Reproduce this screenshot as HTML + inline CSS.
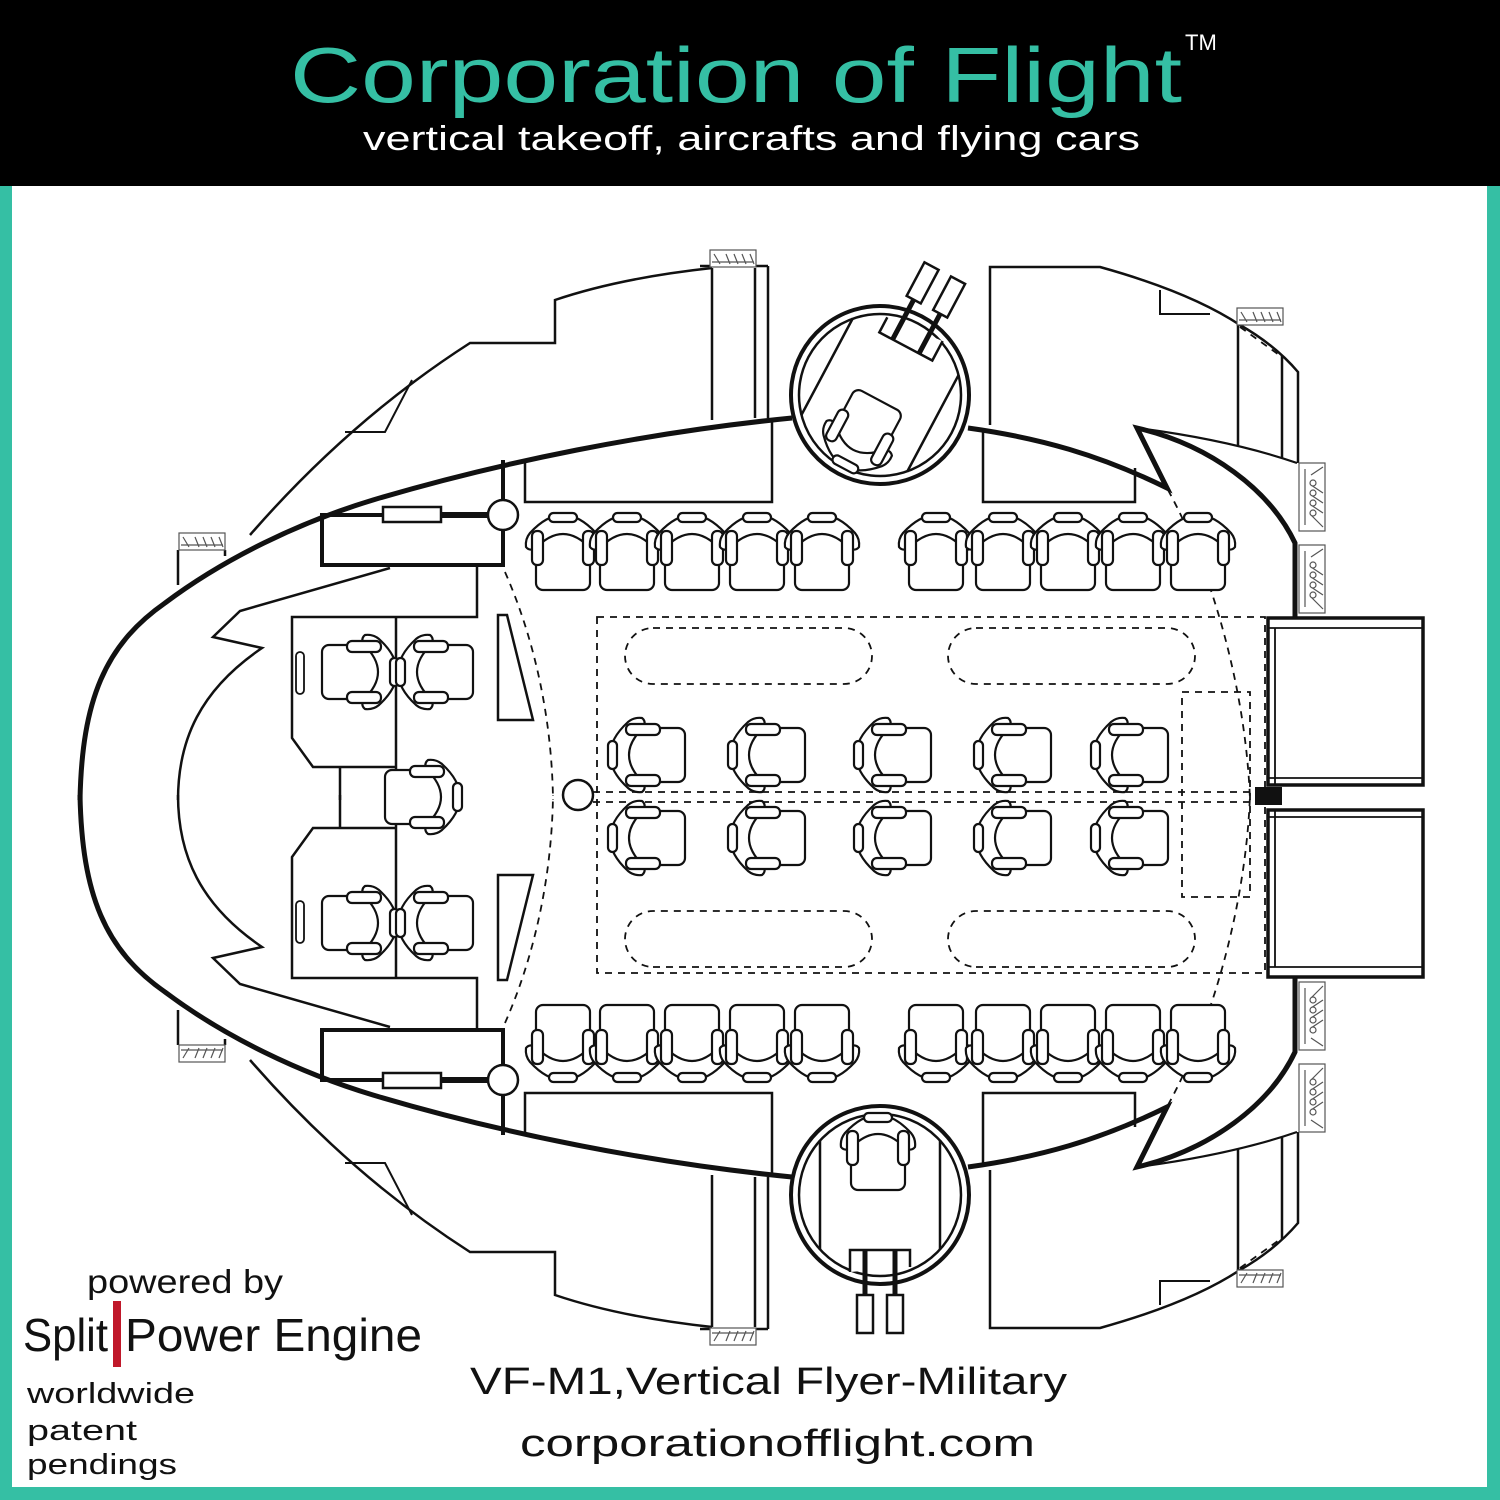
<!DOCTYPE html>
<html><head><meta charset="utf-8"><style>
html,body{margin:0;padding:0;background:#fff;}
svg{display:block;}
text{font-family:"Liberation Sans",sans-serif;}
</style></head><body>
<svg width="1500" height="1500" viewBox="0 0 1500 1500" xmlns="http://www.w3.org/2000/svg">
<defs>
  <g id="seat" fill="#fff" stroke="#111" stroke-width="2.2" stroke-linejoin="round">
    <rect x="-27" y="-4" width="54" height="59" rx="7"/>
    <path d="M-37,12 Q-38,4 -33,-2 Q0,-38 33,-2 Q38,4 37,12 Q34,16 28,14 Q0,-16 -28,14 Q-34,16 -37,12 Z"/>
    <rect x="-14" y="-22" width="28" height="9" rx="4.5"/>
    <rect x="-31" y="-4" width="11" height="34" rx="5"/>
    <rect x="20" y="-4" width="11" height="34" rx="5"/>
  </g>
  <g id="thruster" fill="#fff" stroke="#555" stroke-width="1.2">
    <rect x="0" y="0" width="46" height="17"/>
    <path d="M4,4 L10,14 M16,4 L20,14 M24,4 L28,14 M32,4 L36,14 M40,4 L44,14 M2,12 H44"/>
  </g>
  <g id="vthruster" fill="#fff" stroke="#555" stroke-width="1.2">
    <rect x="0" y="0" width="26" height="68"/>
    <path d="M6,6 V62 M12,12 L24,4 M12,22 L24,30 M12,32 L24,40 M12,42 L24,50 M12,52 L24,64"/>
    <circle cx="14" cy="20" r="3"/><circle cx="14" cy="30" r="3"/><circle cx="14" cy="40" r="3"/><circle cx="14" cy="50" r="3"/>
  </g>
  <g id="turret" fill="none" stroke="#111">
    <circle r="89" stroke-width="4" fill="#fff"/>
    <circle r="81" stroke-width="2.5"/>
    <path d="M-60,-55 V55 M60,-55 V55" stroke-width="2.5"/>
    <path d="M-30,77 V55 H30 V72" stroke-width="2.5" fill="#fff"/>
    <path d="M-15,55 V100 M15,55 V100" stroke-width="5"/>
    <rect x="-23" y="100" width="16" height="38" stroke-width="2.5" fill="#fff"/>
    <rect x="7" y="100" width="16" height="38" stroke-width="2.5" fill="#fff"/>
    <use href="#seat" transform="translate(-2,-60)"/>
  </g>
  <g id="half" fill="none" stroke="#111">
    <path d="M250,535 Q350,420 470,343 L555,343 L555,300 Q620,278 712,268" stroke-width="2.5"/>
    <path d="M345,432 L385,432 L412,380" stroke-width="2"/>
    <path d="M712,268 V420 M755,268 V418 M768,266 V418 M700,266 H768" stroke-width="2.5"/>
    <path d="M525,462 V502 H772 V420" stroke-width="2.5"/>
    <path d="M990,425 V267 H1100 Q1190,292 1240,325 Q1275,345 1298,372 V463" stroke-width="2.5"/>
    <path d="M1160,290 V314 H1210" stroke-width="2"/>
    <path d="M1238,325 V446 M1282,356 V458" stroke-width="2.5"/>
    <path d="M1240,327 L1282,357" stroke-width="1.8" stroke-dasharray="7,6"/>
    <path d="M983,430 V502 H1135 V468" stroke-width="2.5"/>
    <path d="M1137,428 Q1230,440 1297,463" stroke-width="2.2"/>
    <path d="M178,550 V585 M225,550 V556" stroke-width="2.5"/>
    <path d="M80,800 C82,700 105,645 165,603 C225,558 300,522 373,500 C500,462 650,432 792,418" stroke-width="5"/>
    <path d="M968,428 C1040,438 1100,455 1167,488 L1137,428 C1210,445 1270,490 1295,543 L1295,617" stroke-width="5"/>
    <path d="M503,460 V500" stroke-width="4"/>
    <path d="M390,568 L240,611 L213,637 L262,648 C200,690 178,740 178,800" stroke-width="2.5"/>
    <rect x="322" y="515" width="181" height="50" stroke-width="4"/>
    <rect x="383" y="507" width="58" height="15" stroke-width="2.5" fill="#fff"/>
    <path d="M441,515 H490" stroke-width="6"/>
    <circle cx="503" cy="515" r="15" stroke-width="2.5" fill="#fff"/>
    <path d="M477,565 V617 H292 V738 L313,767 H396 M396,617 V800 M340,767 V800" stroke-width="2.5"/>
    <path d="M498,615 H507 L533,720 H498 Z" stroke-width="2.5"/>
    <rect x="296" y="652" width="8" height="42" rx="4" stroke-width="1.8"/>
    <use href="#seat" transform="translate(377,672) rotate(90)"/>
    <use href="#seat" transform="translate(418,672) rotate(-90)"/>
    <path d="M505,572 C535,640 552,720 553,800" stroke-width="1.8" stroke-dasharray="7,6"/>
    <path d="M1168,490 C1212,570 1246,690 1250,800" stroke-width="1.8" stroke-dasharray="7,6"/>
    <rect x="625" y="628" width="247" height="56" rx="28" stroke-width="1.8" stroke-dasharray="7,6"/>
    <rect x="948" y="628" width="247" height="56" rx="28" stroke-width="1.8" stroke-dasharray="7,6"/>
    <use href="#seat" transform="translate(563,535)"/>
    <use href="#seat" transform="translate(627,535)"/>
    <use href="#seat" transform="translate(692,535)"/>
    <use href="#seat" transform="translate(757,535)"/>
    <use href="#seat" transform="translate(822,535)"/>
    <use href="#seat" transform="translate(936,535)"/>
    <use href="#seat" transform="translate(1003,535)"/>
    <use href="#seat" transform="translate(1068,535)"/>
    <use href="#seat" transform="translate(1133,535)"/>
    <use href="#seat" transform="translate(1198,535)"/>
    <use href="#thruster" transform="translate(179,533)"/>
    <use href="#thruster" transform="translate(710,250)"/>
    <use href="#thruster" transform="translate(1237,308)"/>
    <use href="#vthruster" transform="translate(1299,463)"/>
    <use href="#vthruster" transform="translate(1299,545)"/>
    <rect x="1268" y="618" width="155" height="167" stroke-width="3.5" fill="#fff"/>
    <path d="M1268,628 H1423 M1275,628 V785 M1268,778 H1423" stroke-width="1.8"/>
  </g>
</defs>

<rect x="0" y="0" width="1500" height="186" fill="#000"/>
<rect x="0" y="186" width="12" height="1314" fill="#35bfa4"/>
<rect x="1487" y="186" width="13" height="1314" fill="#35bfa4"/>
<rect x="0" y="1487" width="1500" height="13" fill="#35bfa4"/>

<text x="290" y="102" font-size="78" fill="#35bfa4" textLength="892" lengthAdjust="spacingAndGlyphs">Corporation of Flight</text>
<text x="1185" y="50" font-size="22" fill="#fff">TM</text>
<text x="363" y="150" font-size="34" fill="#fff" textLength="777" lengthAdjust="spacingAndGlyphs">vertical takeoff, aircrafts and flying cars</text>

<use href="#half"/>
<use href="#half" transform="translate(0,1595) scale(1,-1)"/>

<g fill="none" stroke="#111">
  <rect x="597" y="617" width="668" height="356" stroke-width="1.8" stroke-dasharray="7,6"/>
  <rect x="1182" y="692" width="68" height="205" stroke-width="1.8" stroke-dasharray="7,6"/>
  <path d="M593,792 H1255 M593,802 H1255" stroke-width="1.8" stroke-dasharray="7,6"/>
  <circle cx="578" cy="795" r="15" stroke-width="2.5" fill="#fff"/>
</g>
<rect x="1255" y="787" width="27" height="18" fill="#111"/>
<use href="#seat" transform="translate(440,797) rotate(90)"/>

<use href="#seat" transform="translate(630,755) rotate(-90)"/>
<use href="#seat" transform="translate(750,755) rotate(-90)"/>
<use href="#seat" transform="translate(876,755) rotate(-90)"/>
<use href="#seat" transform="translate(996,755) rotate(-90)"/>
<use href="#seat" transform="translate(1113,755) rotate(-90)"/>
<use href="#seat" transform="translate(630,838) rotate(-90)"/>
<use href="#seat" transform="translate(750,838) rotate(-90)"/>
<use href="#seat" transform="translate(876,838) rotate(-90)"/>
<use href="#seat" transform="translate(996,838) rotate(-90)"/>
<use href="#seat" transform="translate(1113,838) rotate(-90)"/>

<use href="#turret" transform="translate(880,395) rotate(208)"/>
<use href="#turret" transform="translate(880,1195)"/>

<text x="87" y="1293" font-size="33" fill="#111" textLength="196" lengthAdjust="spacingAndGlyphs">powered by</text>
<text x="23" y="1351" font-size="46" fill="#111" textLength="85" lengthAdjust="spacingAndGlyphs">Split</text>
<rect x="113" y="1301" width="8" height="66" fill="#c0182a"/>
<text x="125" y="1351" font-size="46" fill="#111" textLength="297" lengthAdjust="spacingAndGlyphs">Power Engine</text>
<text x="27" y="1403" font-size="29" fill="#111" textLength="168" lengthAdjust="spacingAndGlyphs">worldwide</text>
<text x="27" y="1440" font-size="29" fill="#111" textLength="110" lengthAdjust="spacingAndGlyphs">patent</text>
<text x="27" y="1474" font-size="29" fill="#111" textLength="150" lengthAdjust="spacingAndGlyphs">pendings</text>
<text x="470" y="1394" font-size="38" fill="#111" textLength="597" lengthAdjust="spacingAndGlyphs">VF-M1,Vertical Flyer-Military</text>
<text x="520" y="1456" font-size="38" fill="#111" textLength="515" lengthAdjust="spacingAndGlyphs">corporationofflight.com</text>
</svg>
</body></html>
